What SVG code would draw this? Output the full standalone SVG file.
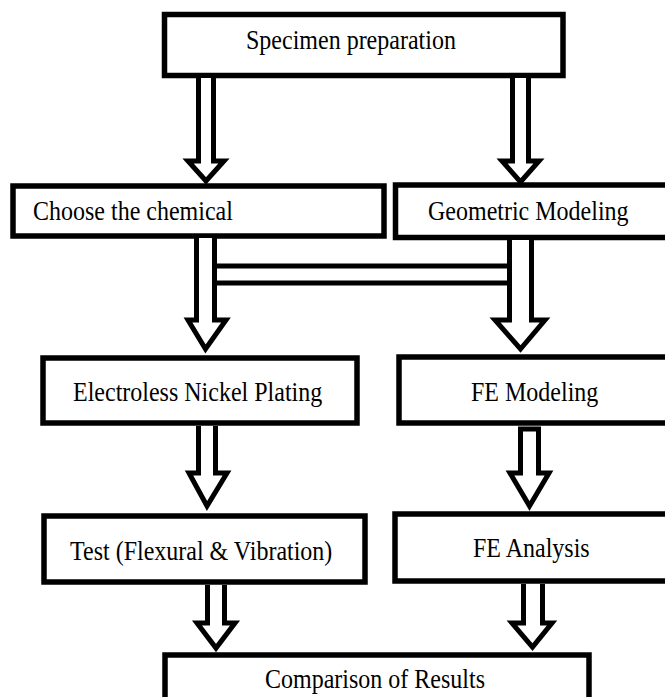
<svg xmlns="http://www.w3.org/2000/svg" width="665" height="697" viewBox="0 0 665 697">
<style>
.box{fill:#fff;stroke:#000;stroke-width:5.5}
.arr{fill:#fff;stroke:#000;stroke-width:5;stroke-linejoin:miter;stroke-miterlimit:10}
.t{font-family:"Liberation Serif","Times New Roman",serif;font-size:24px;fill:#000}
</style>
<rect width="665" height="697" fill="#fff"/>
<g id="n-specimen"><rect class="box" x="164.5" y="14.5" width="398.5" height="61"/><text class="t" transform="translate(246,49) scale(1,1.15)">Specimen preparation</text></g>
<g id="n-choose"><rect class="box" x="13" y="186" width="371" height="50"/><text class="t" transform="translate(33,220) scale(1,1.15)">Choose the chemical</text></g>
<g id="n-geometric"><rect class="box" x="395.5" y="185" width="285" height="52.5"/><text class="t" transform="translate(428,220) scale(1,1.15)">Geometric Modeling</text></g>
<g id="n-electroless"><rect class="box" x="43" y="358" width="314" height="65"/><text class="t" transform="translate(73,401) scale(1,1.15)">Electroless Nickel Plating</text></g>
<g id="n-femodel"><rect class="box" x="399" y="357" width="281" height="66"/><text class="t" transform="translate(471,401) scale(1,1.15)">FE Modeling</text></g>
<g id="n-test"><rect class="box" x="44" y="516" width="321" height="66"/><text class="t" transform="translate(70,560) scale(1,1.15)">Test (Flexural &amp; Vibration)</text></g>
<g id="n-feanalysis"><rect class="box" x="395" y="514" width="285" height="67"/><text class="t" transform="translate(473,557) scale(1,1.15)">FE Analysis</text></g>
<g id="n-comparison"><rect class="box" x="165" y="655" width="424" height="65"/><text class="t" transform="translate(265,688) scale(1,1.15)">Comparison of Results</text></g>
<g id="connectors">
<rect class="arr" x="214.5" y="266" width="295" height="17"/>
<path class="arr" d="M198.5,78 V161 H188 L206,181 L224,161 H213.5 V78"/>
<path class="arr" d="M512.5,78 V161 H502 L520.5,182 L539,161 H528.5 V78"/>
<path class="arr" d="M196.5,238 V320 H188 L205.5,349 L226,320 H214.5 V238"/>
<path class="arr" d="M509.5,240 V320 H495 L520.5,349 L545,320 H531.5 V240"/>
<path class="arr" d="M198.5,426 V473 H189 L207,506 L227,473 H215.5 V426"/>
<path class="arr" d="M520.5,429 V473 H510 L529.5,506 L549,473 H538.5 V429 Z"/>
<path class="arr" d="M207.5,585 V623 H197 L216,648 L235,623 H224.5 V585"/>
<path class="arr" d="M523.5,584 V623 H512 L532.5,647 L552,623 H542.5 V584"/>
</g>
</svg>
